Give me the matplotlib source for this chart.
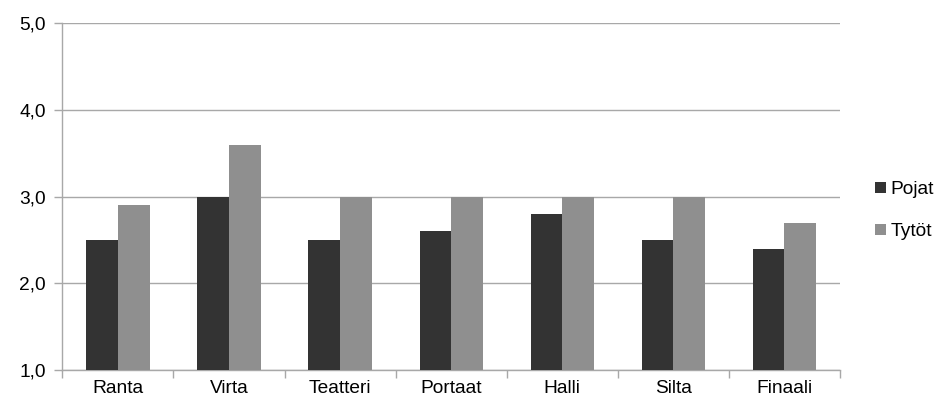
import numpy as np
import matplotlib
matplotlib.use("Agg")
import matplotlib.pyplot as plt
from matplotlib.ticker import FixedLocator, FuncFormatter

# data
categories = ["Ranta", "Virta", "Teatteri", "Portaat", "Halli", "Silta", "Finaali"]
pojat = [2.5, 3.0, 2.5, 2.6, 2.8, 2.5, 2.4]
tytot = [2.9, 3.6, 3.0, 3.0, 3.0, 3.0, 2.7]
y_ticks = [1.0, 2.0, 3.0, 4.0, 5.0]

plt.rcParams['font.family'] = ['Liberation Sans', 'DejaVu Sans']
fs = 13.8

fig = plt.figure(figsize=(9.35, 4.03), dpi=100)
ax = fig.add_axes([0.0668, 0.0819, 0.8312, 0.8598])

x = np.arange(len(categories))
w = 0.284
grid_col = "#a8a8a8"

ax.bar(x - w / 2, np.array(pojat) - 1.0, w, bottom=1.0, color="#333333", label="Pojat", zorder=3)
ax.bar(x + w / 2, np.array(tytot) - 1.0, w, bottom=1.0, color="#8f8f8f", label="Tytöt", zorder=3)

ax.set_xlim(-0.5, len(categories) - 0.5)
ax.set_ylim(1.0, 5.0)
ax.set_yticks(y_ticks)
ax.yaxis.set_major_formatter(FuncFormatter(lambda v, p: f"{v:.1f}".replace(".", ",")))
ax.yaxis.grid(True, color=grid_col, linewidth=1.0, zorder=0)

ax.set_xticks(x)
ax.set_xticklabels(categories)
ax.xaxis.set_minor_locator(FixedLocator(np.arange(-0.5, len(categories), 1.0)))
ax.tick_params(axis="x", which="major", length=0, pad=7, labelsize=fs)
ax.tick_params(axis="x", which="minor", length=6, color=grid_col, width=1.0)
ax.tick_params(axis="y", length=6, color=grid_col, width=1.0, pad=6, labelsize=fs)

for s in ["top", "right"]:
    ax.spines[s].set_visible(False)
for s in ["left", "bottom"]:
    ax.spines[s].set_color(grid_col)
    ax.spines[s].set_linewidth(1.0)

leg = ax.legend(loc="center left", bbox_to_anchor=(0.936, 0.477), bbox_transform=fig.transFigure,
                frameon=False, handlelength=0.55, handleheight=0.55, handletextpad=0.25,
                labelspacing=1.3, fontsize=fs, borderpad=0, borderaxespad=0)

fig.savefig("out.png", dpi=100)
